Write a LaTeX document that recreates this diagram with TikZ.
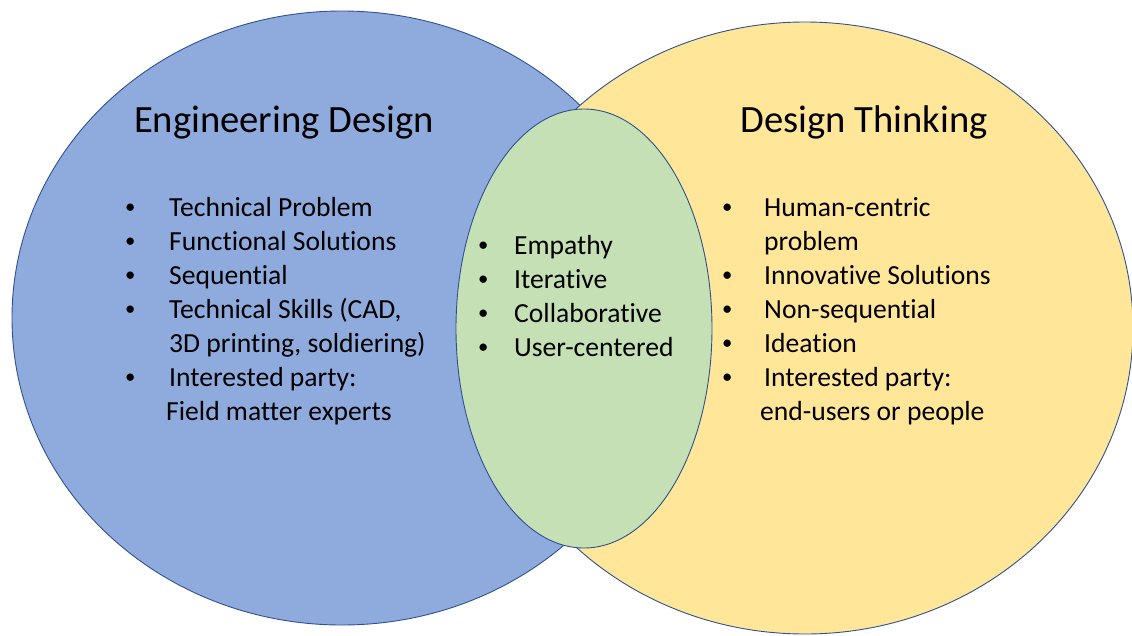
\documentclass[tikz,border=0pt]{standalone}
\usepackage{fontspec}
\setmainfont{Carlito}[Ligatures=NoCommon]
\usepackage{tikz}
\usetikzlibrary{shapes.geometric}

\definecolor{edblue}{HTML}{8FAADC}
\definecolor{dtyellow}{HTML}{FFE699}
\definecolor{bothgreen}{HTML}{C5E0B4}
\definecolor{rimblue}{HTML}{2F528F}

% bullet that sits centred on the left edge, text starts #1 later
\newcommand{\itm}[1]{\makebox[#1][l]{\makebox[0pt]{\raisebox{2.4pt}{\scalebox{0.75}{\textbullet}}}}}

\tikzset{
    set/.style={ellipse, draw=rimblue, line width=0.9pt, inner sep=0pt},
    heading/.style={font=\fontsize{38.6}{46}\selectfont, inner sep=0pt, anchor=base},
    itemlist/.style={font=\fontsize{27.6}{34}\selectfont, inner sep=0pt, anchor=base west},
}

\begin{document}
\begin{tikzpicture}[x=1pt, y=-1pt]
    	% Sets:
    	\useasboundingbox (0, 0) rectangle (1132, 635);
    	\node[set, fill=edblue, minimum width=660pt, minimum height=614pt] (ed) at (342, 318){};
    	\node[set, fill=dtyellow, minimum width=656pt, minimum height=612pt] (dt) at (805, 328){};
    	\node[set, fill=bothgreen, minimum width=256pt, minimum height=439pt] (both) at (584, 328.5){};
    	% Headings:
    	\node[heading] (edtitle) at (284, 132){Engineering Design};
    	\node[heading] (dttitle) at (864, 132){Design Thinking};
    	% Lists:
    	\node[itemlist] (edlist) at (130, 216){\begin{tabular}[t]{@{}l@{}}
    		\itm{39pt}Technical Problem\\
    		\itm{39pt}Functional Solutions\\
    		\itm{39pt}Sequential\\
    		\itm{39pt}Technical Skills (CAD,\\
    		\hspace{39pt}3D printing, soldiering)\\
    		\itm{39pt}Interested party:\\
    		\hspace{36pt}Field matter experts
    	\end{tabular}};
    	\node[itemlist] (bothlist) at (483, 254){\begin{tabular}[t]{@{}l@{}}
    		\itm{31pt}Empathy\\
    		\itm{31pt}Iterative\\
    		\itm{31pt}Collaborative\\
    		\itm{31pt}User-centered
    	\end{tabular}};
    	\node[itemlist] (dtlist) at (727, 216){\begin{tabular}[t]{@{}l@{}}
    		\itm{37pt}Human-centric\\
    		\hspace{37pt}problem\\
    		\itm{37pt}Innovative Solutions\\
    		\itm{37pt}Non-sequential\\
    		\itm{37pt}Ideation\\
    		\itm{37pt}Interested party:\\
    		\hspace{33pt}end-users or people
    	\end{tabular}};
    \end{tikzpicture}
\end{document}
